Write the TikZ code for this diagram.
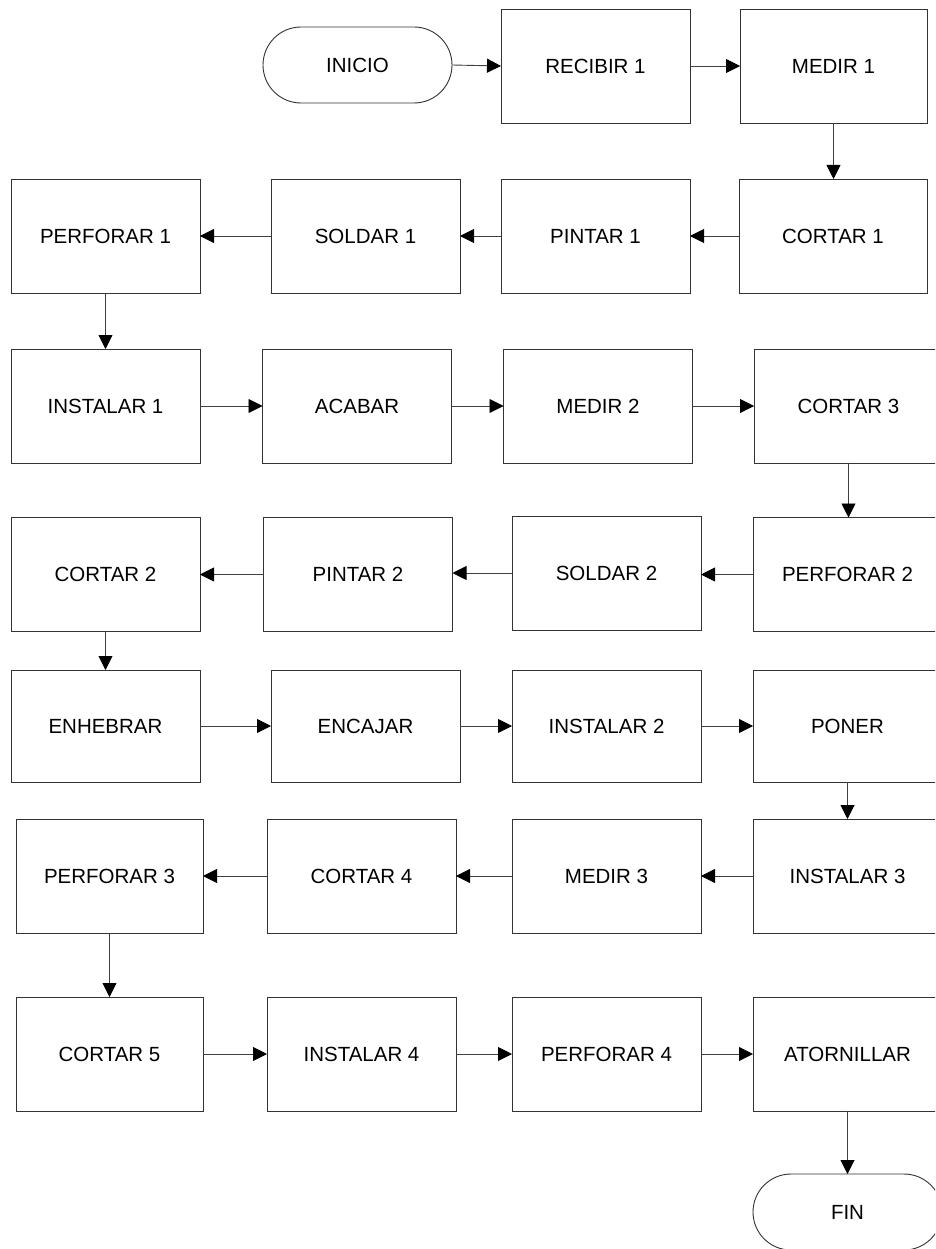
\documentclass[tikz,border=0pt]{standalone}
\usepackage{fontspec}
\setmainfont{Liberation Sans}
\usetikzlibrary{arrows.meta}
\begin{document}
\begin{tikzpicture}[x=1pt,y=-1pt,
  every node/.style={font=\fontsize{20.5}{24}\selectfont},
  stepbox/.style={draw=black!80, line width=0.9pt, rectangle, inner sep=0pt, outer sep=0pt,
    minimum width=189pt, minimum height=114pt},
  termbox/.style={draw=black!80, line width=0.9pt, rectangle, rounded corners=38pt, inner sep=0pt, outer sep=0pt,
    minimum width=189pt, minimum height=76pt},
  flow/.style={draw=black!75, line width=0.9pt, -{Triangle[length=14pt,width=14pt,color=black]}}]
\clip (0,0) rectangle (935,1249);
\fill[white] (0,0) rectangle (935,1249);
% row 1
\node[termbox] (inicio) at (357.5,65) {INICIO};
\node[stepbox] (recibir1) at (595.5,66) {RECIBIR 1};
\node[stepbox, minimum width=187pt] (medir1) at (833.5,66) {MEDIR 1};
% row 2
\node[stepbox] (perforar1) at (105.5,236) {PERFORAR 1};
\node[stepbox] (soldar1) at (365.5,236) {SOLDAR 1};
\node[stepbox] (pintar1) at (595.5,236) {PINTAR 1};
\node[stepbox, minimum width=188pt] (cortar1) at (833,236) {CORTAR 1};
% row 3
\node[stepbox] (instalar1) at (105.5,406) {INSTALAR 1};
\node[stepbox] (acabar) at (357,406) {ACABAR};
\node[stepbox] (medir2) at (598,406) {MEDIR 2};
\node[stepbox] (cortar3) at (848.5,406) {CORTAR 3};
% row 4
\node[stepbox] (cortar2) at (105.5,574.5) {CORTAR 2};
\node[stepbox] (pintar2) at (358,574.5) {PINTAR 2};
\node[stepbox] (soldar2) at (606.5,573) {SOLDAR 2};
\node[stepbox] (perforar2) at (847.5,574.5) {PERFORAR 2};
% row 5
\node[stepbox, minimum height=112pt] (enhebrar) at (105.5,726) {ENHEBRAR};
\node[stepbox, minimum height=112pt] (encajar) at (365.5,726) {ENCAJAR};
\node[stepbox, minimum height=112pt] (instalar2) at (606.5,726) {INSTALAR 2};
\node[stepbox, minimum height=112pt] (poner) at (847.5,726) {PONER};
% row 6
\node[stepbox, minimum width=187pt] (perforar3) at (109.5,876) {PERFORAR 3};
\node[stepbox] (cortar4) at (361.5,876) {CORTAR 4};
\node[stepbox] (medir3) at (606.5,876) {MEDIR 3};
\node[stepbox] (instalar3) at (847.5,876) {INSTALAR 3};
% row 7
\node[stepbox, minimum width=187pt] (cortar5) at (109.5,1054) {CORTAR 5};
\node[stepbox] (instalar4) at (361.5,1054) {INSTALAR 4};
\node[stepbox] (perforar4) at (606.5,1054) {PERFORAR 4};
\node[stepbox] (atornillar) at (847.5,1054) {ATORNILLAR};
% end
\node[termbox] (fin) at (847.5,1212) {FIN};
% connectors
\draw[flow] (inicio.east) -- (recibir1.west);
\draw[flow] (recibir1.east) -- (medir1.west);
\draw[flow] (medir1.south) -- (medir1.south |- cortar1.north);
\draw[flow] (cortar1.west) -- (pintar1.east);
\draw[flow] (pintar1.west) -- (soldar1.east);
\draw[flow] (soldar1.west) -- (perforar1.east);
\draw[flow] (perforar1.south) -- (perforar1.south |- instalar1.north);
\draw[flow] (instalar1.east) -- (acabar.west);
\draw[flow] (acabar.east) -- (medir2.west);
\draw[flow] (medir2.east) -- (cortar3.west);
\draw[flow] (cortar3.south) -- (cortar3.south |- perforar2.north);
\draw[flow] (perforar2.west) -- (perforar2.west -| soldar2.east);
\draw[flow] (soldar2.west) -- (soldar2.west -| pintar2.east);
\draw[flow] (pintar2.west) -- (cortar2.east);
\draw[flow] (cortar2.south) -- (cortar2.south |- enhebrar.north);
\draw[flow] (enhebrar.east) -- (encajar.west);
\draw[flow] (encajar.east) -- (instalar2.west);
\draw[flow] (instalar2.east) -- (poner.west);
\draw[flow] (poner.south) -- (poner.south |- instalar3.north);
\draw[flow] (instalar3.west) -- (medir3.east);
\draw[flow] (medir3.west) -- (cortar4.east);
\draw[flow] (cortar4.west) -- (perforar3.east);
\draw[flow] (perforar3.south) -- (perforar3.south |- cortar5.north);
\draw[flow] (cortar5.east) -- (instalar4.west);
\draw[flow] (instalar4.east) -- (perforar4.west);
\draw[flow] (perforar4.east) -- (atornillar.west);
\draw[flow] (atornillar.south) -- (atornillar.south |- fin.north);
\end{tikzpicture}
\end{document}
